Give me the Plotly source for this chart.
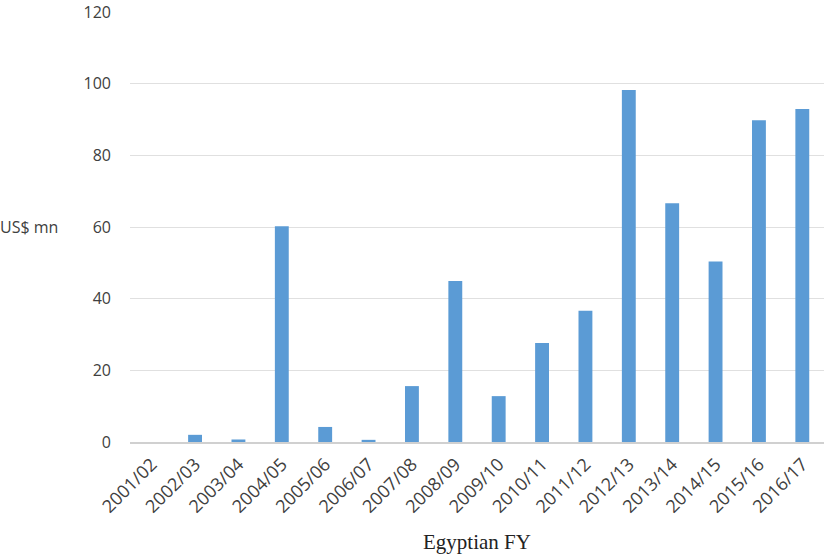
import plotly.graph_objects as go

# Egyptian fiscal years and amounts (US$ mn)
fiscal_years = ["2001/02", "2002/03", "2003/04", "2004/05", "2005/06", "2006/07",
                "2007/08", "2008/09", "2009/10", "2010/11", "2011/12", "2012/13",
                "2013/14", "2014/15", "2015/16", "2016/17"]
amounts = [0, 2.0, 0.7, 60.2, 4.2, 0.6, 15.6, 44.9, 12.8, 27.6, 36.6, 98.2,
           66.6, 50.4, 89.8, 92.9]
y_ticks = [0, 20, 40, 60, 80, 100, 120]

fig = go.Figure(
    go.Bar(x=fiscal_years, y=amounts, marker=dict(color="#5b9bd5", line=dict(width=0)))
)

fig.update_layout(
    width=824, height=554,
    margin=dict(l=130, r=0, t=12, b=112),
    plot_bgcolor="white", paper_bgcolor="white",
    bargap=0.68,
    showlegend=False,
    font=dict(family="Open Sans, Liberation Sans, sans-serif", size=15, color="#404040"),
    xaxis=dict(
        tickangle=-45, showgrid=False, showline=True, linecolor="#d0d0d0", linewidth=1.5,
        ticks="", ticklabelstandoff=3, tickfont=dict(size=18, color="#404040"),
        title=dict(text="Egyptian FY",
                   font=dict(family="Liberation Serif, Times New Roman, serif", size=21, color="#222222"),
                   standoff=20),
    ),
    yaxis=dict(
        range=[0, 120], tickvals=y_ticks, showgrid=True, gridcolor="#e0e0e0", gridwidth=1,
        zeroline=False, showline=False, ticks="", ticklabelstandoff=18,
        tickfont=dict(size=16, color="#404040"),
    ),
    annotations=[dict(text="US$ mn", xref="paper", yref="y", x=-0.19, y=60,
                      xanchor="left", yanchor="middle", showarrow=False,
                      font=dict(size=16, color="#404040"))],
)

fig.write_html("out.html")
